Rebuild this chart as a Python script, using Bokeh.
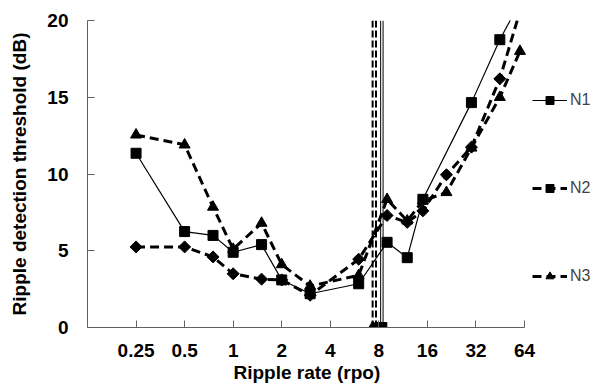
import math
from bokeh.plotting import figure
from bokeh.models import Range1d, FixedTicker, Legend, LegendItem, Title
from bokeh.embed import file_html
from bokeh.resources import INLINE

# ---- data ----
rpo_n1 = [0.25, 0.5, 0.75, 1, 1.5, 2, 3, 6, 9, 12, 15, 30, 45, 60]
thr_n1 = [11.35, 6.25, 6.0, 4.9, 5.4, 3.1, 2.2, 2.85, 5.55, 4.55, 8.35, 14.65, 18.75, 21.2]

rpo_n2 = [0.25, 0.5, 0.75, 1, 1.5, 2, 3, 6, 9, 12, 15, 21, 30, 45, 60]
thr_n2 = [5.25, 5.25, 4.6, 3.5, 3.15, 3.1, 2.1, 4.45, 7.3, 6.85, 7.6, 9.95, 11.75, 16.2, 20.6]

rpo_n3 = [0.25, 0.5, 0.75, 1, 1.5, 2, 3, 6, 9, 12, 15, 21, 30, 45, 60]
thr_n3 = [12.55, 11.9, 7.85, 5.1, 6.8, 4.1, 2.7, 3.4, 8.35, 6.95, 8.25, 8.8, 11.7, 15.0, 18.0]

# vertical limit lines (rpo) per listener
vline_n1 = [8.21, 8.5]
vline_n2 = [7.68]
vline_n3 = [7.32]
limit_marker_n1 = [8.35]

y_bottom, y_top = 0, 20
x_start, x_axis_stop = 0.125, 64

x_ticks = [0.25, 0.5, 1, 2, 4, 8, 16, 32, 64]
x_tick_labels = ["0.25", "0.5", "1", "2", "4", "8", "16", "32", "64"]
y_ticks = [0, 5, 10, 15, 20]

FONT = "Liberation Sans"
W, H = 605, 388
LEFT = 87
AXIS_PX = 437          # pixel length of the drawn x axis (0.125 .. 64)
# frame runs to the right edge so the legend (inside the frame) is visible
x_end = x_start * (x_axis_stop / x_start) ** ((W - LEFT) / AXIS_PX)

p = figure(width=W, height=H, x_axis_type="log",
           x_range=Range1d(x_start, x_end), y_range=Range1d(y_bottom, y_top),
           output_backend="svg", toolbar_location=None,
           min_border_left=LEFT, min_border_right=0, min_border_top=20,
           min_border_bottom=61)
p.outline_line_color = None
p.grid.visible = False
p.background_fill_color = "white"

AX = "#606060"
for ax in (p.xaxis[0], p.yaxis[0]):
    ax.axis_line_color = AX
    ax.major_tick_line_color = AX
    ax.minor_tick_line_color = None
    ax.major_tick_in = 7
    ax.major_tick_out = 0
    ax.major_label_text_font = FONT
    ax.major_label_text_font_style = "bold"
    ax.major_label_text_font_size = "19px"
    ax.major_label_text_color = "black"
    ax.axis_label_text_font = FONT
    ax.axis_label_text_font_style = "bold"
    ax.axis_label_text_font_size = "19px"
    ax.axis_label_text_color = "black"

p.xaxis.ticker = FixedTicker(ticks=x_ticks)
p.xaxis.major_label_overrides = {t: l for t, l in zip(x_ticks, x_tick_labels)}
p.xaxis.bounds = (x_start, x_axis_stop)
p.xaxis.major_label_standoff = 16

p.add_layout(Title(text="Ripple rate (rpo)", align="left", offset=146, standoff=0,
                   text_font=FONT, text_font_style="bold", text_font_size="19px",
                   text_color="black"), "below")

p.yaxis.ticker = FixedTicker(ticks=y_ticks)
p.yaxis.major_label_standoff = 19
p.yaxis.axis_label = "Ripple detection threshold (dB)"
p.yaxis.axis_label_standoff = 14

DIAMOND = dict(marker="square", angle=math.pi / 4, size=8.5, color="black")

# vertical lines
p.segment(x0=vline_n3, y0=[y_bottom] * len(vline_n3), x1=vline_n3, y1=[y_top] * len(vline_n3),
          line_color="black", line_width=2, line_dash="7 3")
p.segment(x0=vline_n2, y0=[y_bottom] * len(vline_n2), x1=vline_n2, y1=[y_top] * len(vline_n2),
          line_color="black", line_width=2, line_dash="7 3")
p.segment(x0=vline_n1, y0=[y_bottom] * len(vline_n1), x1=vline_n1, y1=[y_top] * len(vline_n1),
          line_color="black", line_width=1)
p.scatter(vline_n3, [y_bottom], marker="triangle", size=11, color="black")
p.scatter(vline_n2, [y_bottom], **DIAMOND)
p.scatter(limit_marker_n1, [y_bottom], marker="square", size=10, color="black")

# series
l1 = p.line(rpo_n1, thr_n1, line_color="black", line_width=1.2)
m1 = p.scatter(rpo_n1, thr_n1, marker="square", size=10, color="black")
l2 = p.line(rpo_n2, thr_n2, line_color="black", line_width=3, line_dash="9 5")
m2 = p.scatter(rpo_n2, thr_n2, **DIAMOND)
l3 = p.line(rpo_n3, thr_n3, line_color="black", line_width=3, line_dash="9 5")
m3 = p.scatter(rpo_n3, thr_n3, marker="triangle", size=11, color="black")

legend = Legend(items=[LegendItem(label="N1", renderers=[l1, m1]),
                       LegendItem(label="N2", renderers=[l2, m2]),
                       LegendItem(label="N3", renderers=[l3, m3])],
                location=(445, 41))
legend.border_line_color = None
legend.background_fill_alpha = 0
legend.padding = 0
legend.margin = 0
legend.spacing = 68
legend.label_height = 20
legend.glyph_height = 20
legend.glyph_width = 35
legend.label_standoff = 3
legend.label_text_font = FONT
legend.label_text_font_size = "16px"
p.add_layout(legend)

open("out.html", "w").write(file_html(p, INLINE))
